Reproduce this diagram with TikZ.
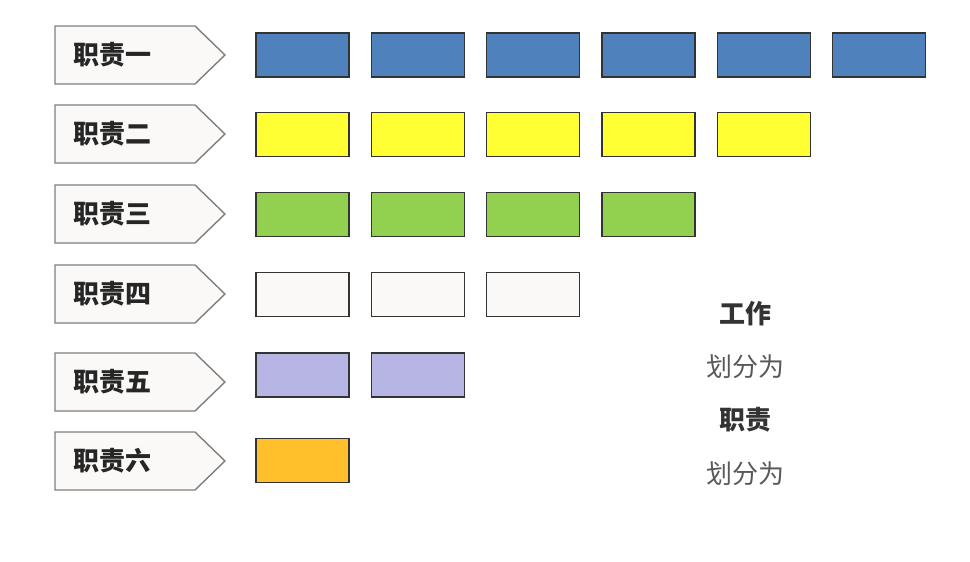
\documentclass[tikz,border=0pt]{standalone}
\usepackage{fontspec}
\newfontfamily\cjk{Noto Sans CJK SC}
\definecolor{cblue}{HTML}{4F81BD}
\definecolor{cyellow}{HTML}{FFFF33}
\definecolor{cgreen}{HTML}{92D050}
\definecolor{cwhite}{HTML}{FAF9F7}
\definecolor{clav}{HTML}{B7B5E3}
\definecolor{corange}{HTML}{FFC02C}
\definecolor{pborder}{HTML}{7F7F7F}
\begin{document}
\begin{tikzpicture}[x=1pt,y=-1pt,
  tag/.style={draw=pborder, line width=1.4pt, fill=cwhite},
  box/.style={draw=black!80, line width=1.4pt, minimum width=93pt, minimum height=44pt, inner sep=0pt},
  tagtext/.style={font=\cjk\bfseries\fontsize{26}{28}\selectfont, text=black!85, anchor=west, inner sep=0pt},
  bigtext/.style={font=\cjk\bfseries\fontsize{26}{28}\selectfont, text=black!80},
  subtext/.style={font=\cjk\fontsize{26}{28}\selectfont, text=black!65}]
\useasboundingbox (0,0) rectangle (970,562);
% tags
\foreach \i/\c/\t in {1/55/一,2/134/二,3/214/三,4/294/四,5/382/五,6/461/六}{
  \draw[tag] (55,\c-29) -- (195,\c-29) -- (225,\c) -- (195,\c+29) -- (55,\c+29) -- cycle;
  \node[tagtext] (t\i) at (73,\c) {职责\t};
}
% boxes
\foreach \x [count=\j] in {302.5,418,533,648.5,764,879}{
  \node[box, fill=cblue] (b1\j) at (\x,55) {};
}
\foreach \x [count=\j] in {302.5,418,533,648.5,764}{
  \node[box, fill=cyellow] (b2\j) at (\x,134.5) {};
}
\foreach \x [count=\j] in {302.5,418,533,648.5}{
  \node[box, fill=cgreen] (b3\j) at (\x,214.5) {};
}
\foreach \x [count=\j] in {302.5,418,533}{
  \node[box, fill=cwhite] (b4\j) at (\x,294.5) {};
}
\foreach \x [count=\j] in {302.5,418}{
  \node[box, fill=clav] (b5\j) at (\x,375) {};
}
\node[box, fill=corange] (b61) at (302.5,460.5) {};
% legend text
\node[bigtext] (w1) at (745,314) {工作};
\node[subtext] (w2) at (745,367) {划分为};
\node[bigtext] (w3) at (745,420) {职责};
\node[subtext] (w4) at (745,474) {划分为};
\end{tikzpicture}
\end{document}
